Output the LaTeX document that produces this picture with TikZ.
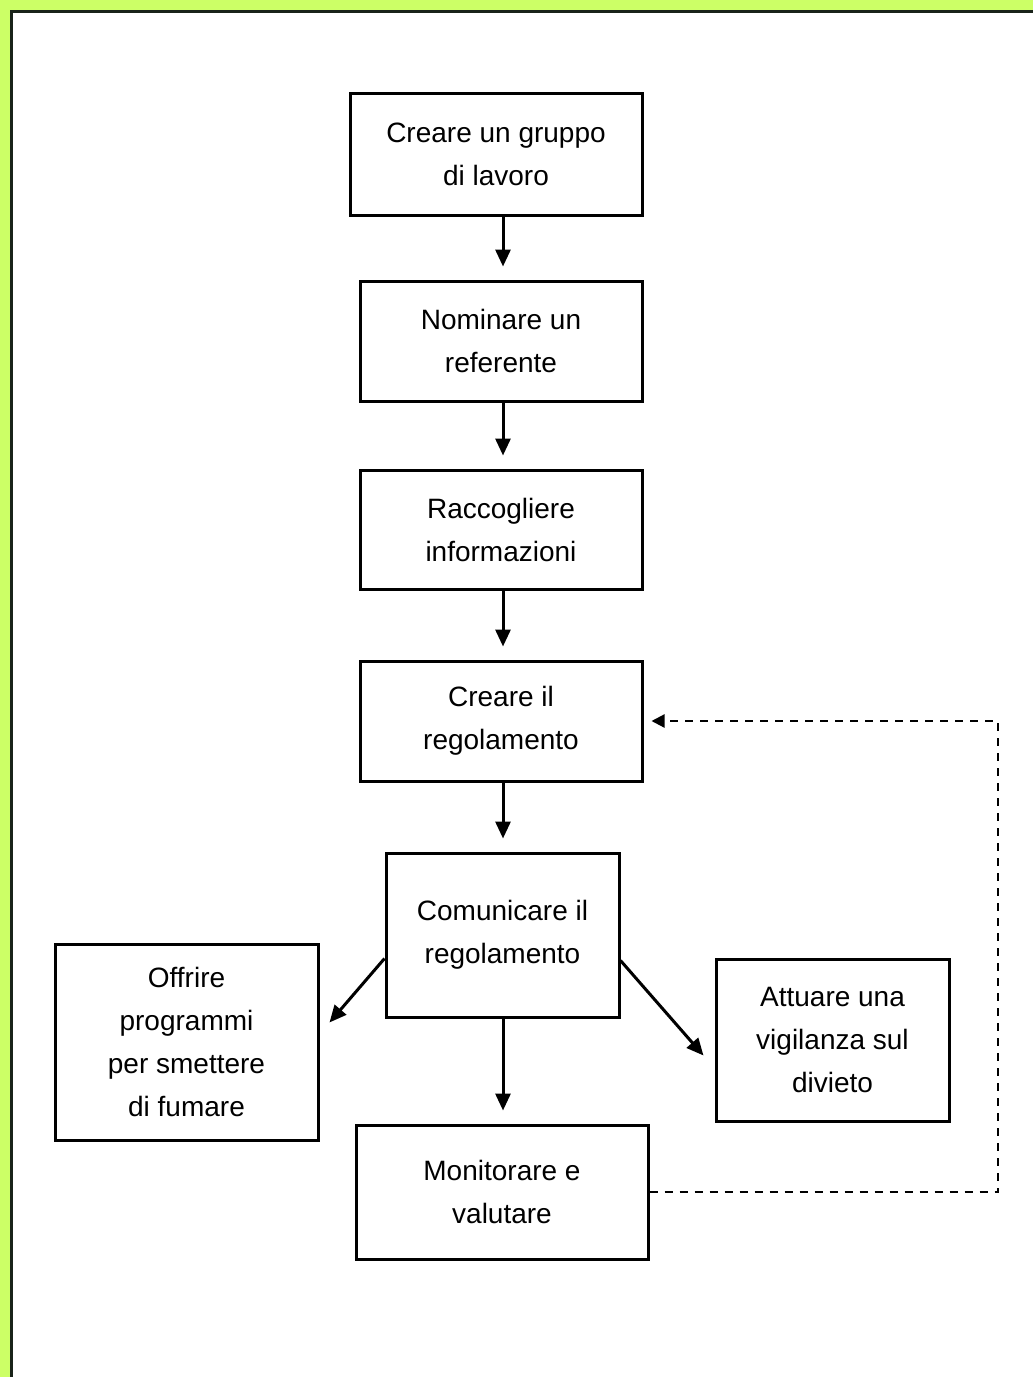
\documentclass[tikz,border=0pt]{standalone}
\usepackage{fontspec}
\setmainfont{Liberation Sans}
\usetikzlibrary{arrows.meta,calc}
\begin{document}
\begin{tikzpicture}[x=1pt,y=-1pt,
  box/.style={draw=black,line width=3pt,fill=white,align=center,inner sep=0pt,
    font=\fontsize{28}{43}\selectfont},
  arr/.style={line width=3pt,-{Triangle[width=15pt,length=17pt]},shorten >=13pt},
  darr/.style={line width=2.2pt,dash pattern=on 8pt off 7pt,-{Triangle[width=13pt,length=13pt]},shorten >=8pt}]
\useasboundingbox (0,0) rectangle (1033,1377);
\fill[fill={rgb,255:red,204;green,255;blue,102}] (0,0) rectangle (1033,1377);
\fill[white] (11,11) rectangle (1033,1377);
\draw[line width=3pt,color={rgb,255:red,25;green,35;blue,25}] (11,1377) -- (11,11) -- (1033,11);

\node[box,minimum width=292pt,minimum height=122pt] (b1) at (496,154) {Creare un gruppo\\di lavoro};
\node[box,minimum width=282pt,minimum height=120pt] (b2) at (501,341) {Nominare un\\referente};
\node[box,minimum width=282pt,minimum height=119pt] (b3) at (501,529.5) {Raccogliere\\informazioni};
\node[box,minimum width=282pt,minimum height=120pt] (b4) at (501,721) {Creare il\\regolamento};
\node[box,minimum width=233pt,minimum height=164pt] (b5) at (502.5,935) {Comunicare il\\regolamento};
\node[box,minimum width=263pt,minimum height=196pt] (b6) at (186.5,1042) {Offrire\\programmi\\per smettere\\di fumare};
\node[box,minimum width=233pt,minimum height=162pt] (b7) at (832.5,1040) {Attuare una\\vigilanza sul\\divieto};
\node[box,minimum width=292pt,minimum height=134pt] (b8) at (502,1192) {Monitorare e\\valutare};

\coordinate (s1) at (503,0);
\draw[arr] (b1.south -| s1) -- (b2.north -| s1);
\draw[arr] (b2.south -| s1) -- (b3.north -| s1);
\draw[arr] (b3.south -| s1) -- (b4.north -| s1);
\draw[arr] (b4.south -| s1) -- (b5.north -| s1);
\draw[arr] (b5.south -| s1) -- (b8.north -| s1);

\coordinate (l0) at ($(b5.north west)+(0,107)$);
\coordinate (l1) at ($(b6.north east)+(10,80)$);
\draw[arr,shorten >=0pt] (l0) -- (l1);
\coordinate (r0) at ($(b5.north east)+(0,109)$);
\coordinate (r1) at ($(b7.north west)+(-11,98)$);
\draw[arr,shorten >=0pt] (r0) -- (r1);

\coordinate (c1) at (998,0);
\draw[darr] (b8.east) -- (b8.east -| c1) -- (b4.east -| c1) -- (b4.east);
\end{tikzpicture}
\end{document}
